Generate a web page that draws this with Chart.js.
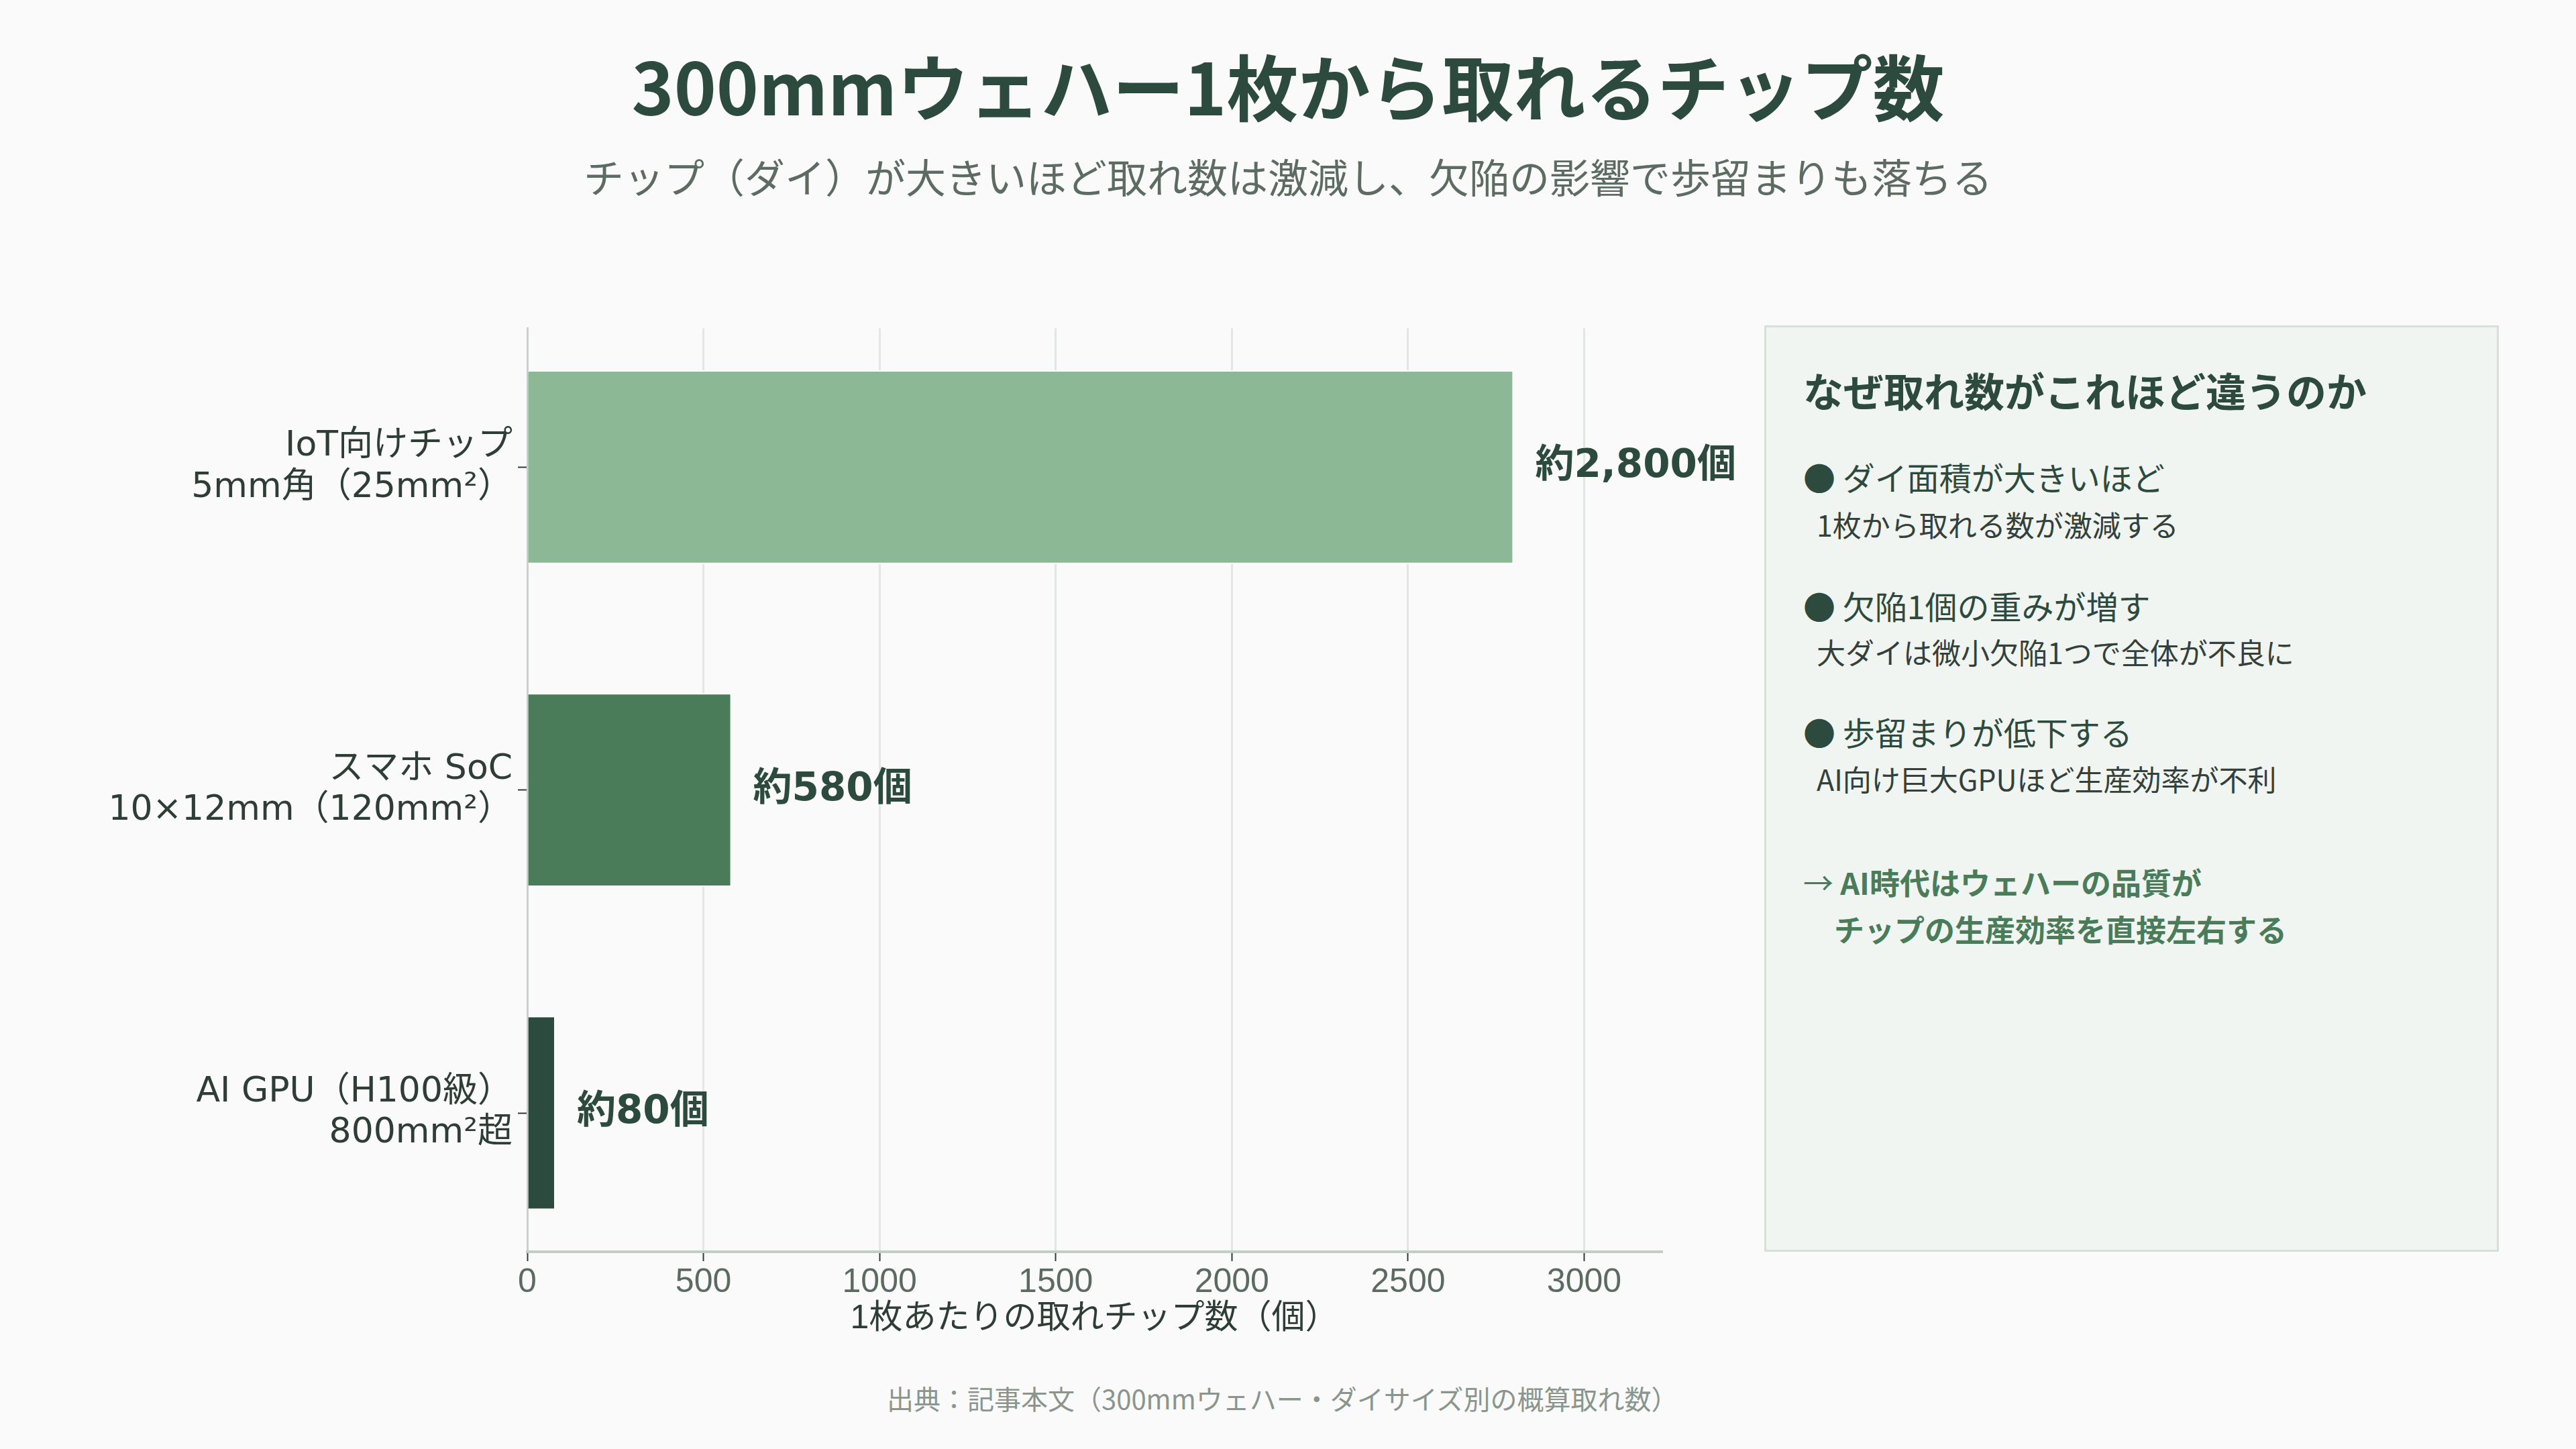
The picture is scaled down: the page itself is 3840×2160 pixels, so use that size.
<!DOCTYPE html>
<html lang="ja">
<head>
<meta charset="utf-8">
<title>300mmウェハー1枚から取れるチップ数</title>
<script src="https://cdn.jsdelivr.net/npm/chart.js@4.4.1/dist/chart.umd.min.js"></script>
<style>
  html, body { margin: 0; padding: 0; background: #fafafa; }
  body { width: 3840px; height: 2160px; position: relative; overflow: hidden;
         font-family: "Noto Sans CJK JP", "Noto Sans", sans-serif; }
  .t { position: absolute; white-space: nowrap; line-height: 1.2; }
  #title { left: 0; width: 3840px; text-align: center; top: 62px; font-size: 107px; font-weight: 700; color: #2d4a3e; }
  #subtitle { left: 0; width: 3840px; text-align: center; top: 226px; font-size: 60px; color: #5d6c62; }
  #chartBox { position: absolute; left: 0; top: 420px; width: 2620px; height: 1590px; }
  #panel { position: absolute; left: 2630px; top: 485px; width: 1089px; height: 1375px;
           background: #f0f5f1; border: 3px solid #d5e1d7; }
  .head { font-size: 60px; font-weight: 700; color: #2d4a3e; }
  .bul { font-size: 48px; color: #2d4a3e; }
  .sub { font-size: 43px; color: #34403a; }
  .con { font-size: 45px; font-weight: 700; color: #4a7c59; }
  #source { left: 1322px; top: 2060px; font-size: 40px; color: #8a968d; }
</style>
</head>
<body>
<div class="t" id="title">300mmウェハー1枚から取れるチップ数</div>
<div class="t" id="subtitle">チップ（ダイ）が大きいほど取れ数は激減し、欠陥の影響で歩留まりも落ちる</div>

<div id="chartBox"><canvas id="chart" width="2620" height="1590"></canvas></div>

<div id="panel"></div>
<div class="t head" style="left:2688px; top:545px;">なぜ取れ数がこれほど違うのか</div>
<div class="t bul" style="left:2688px; top:682px;">● ダイ面積が大きいほど</div>
<div class="t sub" style="left:2708px; top:756px;">1枚から取れる数が激減する</div>
<div class="t bul" style="left:2688px; top:874px;">● 欠陥1個の重みが増す</div>
<div class="t sub" style="left:2708px; top:946px;">大ダイは微小欠陥1つで全体が不良に</div>
<div class="t bul" style="left:2688px; top:1062px;">● 歩留まりが低下する</div>
<div class="t sub" style="left:2708px; top:1135px;">AI向け巨大GPUほど生産効率が不利</div>
<div class="t con" style="left:2688px; top:1288px;"><span style="font-weight:400">→</span> AI時代はウェハーの品質が</div>
<div class="t con" style="left:2734px; top:1358px;">チップの生産効率を直接左右する</div>

<div class="t" id="source">出典：記事本文（300mmウェハー・ダイサイズ別の概算取れ数）</div>

<script>
// data
const categories = [
  ['IoT向けチップ', '5mm角（25mm²）'],
  ['スマホ SoC', '10×12mm（120mm²）'],
  ['AI GPU（H100級）', '800mm²超']
];
const chipCounts = [2800, 580, 80];
const xTicks = [0, 500, 1000, 1500, 2000, 2500, 3000];
const barColors = ['#8db896', '#4a7c59', '#2c4a3e'];

// latin glyphs from a sans family, japanese falls back to Noto CJK
const FONT = '"Liberation Sans", "Noto Sans CJK JP", sans-serif';
const WIDE = '"DejaVu Sans", "Noto Sans CJK JP", sans-serif';

// "約2,800個" labels right of each bar
const valueLabels = {
  id: 'valueLabels',
  afterDatasetsDraw(chart) {
    const ctx = chart.ctx;
    const meta = chart.getDatasetMeta(0);
    ctx.save();
    ctx.font = 'bold 58px ' + WIDE;
    ctx.fillStyle = '#2d4a3e';
    ctx.textBaseline = 'middle';
    ctx.textAlign = 'left';
    meta.data.forEach((bar, i) => {
      ctx.fillText('約' + chipCounts[i].toLocaleString('en-US') + '個', bar.x + 32, bar.y);
    });
    ctx.restore();
  }
};

function draw() {
  const ctx = document.getElementById('chart').getContext('2d');
  new Chart(ctx, {
    type: 'bar',
    data: {
      datasets: [{
        data: chipCounts.map((v, i) => ({ x: v, y: i })),
        backgroundColor: barColors,
        borderColor: '#ffffff',
        borderWidth: 2,
        categoryPercentage: 1,
        barPercentage: 0.6
      }]
    },
    options: {
      indexAxis: 'y',
      responsive: false,
      animation: false,
      layout: { padding: { top: 65, right: 143, left: 0, bottom: 0 } },
      plugins: { legend: { display: false }, tooltip: { enabled: false } },
      scales: {
        y: {
          type: 'linear',
          reverse: true,
          offset: false,
          min: -0.43,
          max: 2.43,
          afterBuildTicks: s => { s.ticks = categories.map((_, i) => ({ value: i })); },
          afterFit: s => { s.width = 786; },
          ticks: {
            callback: v => categories[v],
            font: { family: WIDE, size: 52, lineHeight: 1.18 },
            color: '#2e3d36',
            padding: 8,
            autoSkip: false
          },
          grid: { offset: false, drawOnChartArea: false, drawTicks: true, tickLength: 14, tickColor: '#2e3d36', tickWidth: 2 },
          border: { color: '#c8d0c9', width: 3 }
        },
        x: {
          type: 'linear',
          min: 0,
          max: 3220,
          afterBuildTicks: s => { s.ticks = xTicks.map(v => ({ value: v })); },
          afterFit: s => { s.height = 144; },
          ticks: {
            callback: v => String(v),
            font: { family: FONT, size: 50 },
            color: '#5b6b61',
            padding: 2
          },
          grid: { color: '#e3e7e3', lineWidth: 3, tickLength: 14, tickColor: '#2e3d36', tickWidth: 2 },
          border: { color: '#c3cdc4', width: 4 },
          title: {
            display: true,
            text: '1枚あたりの取れチップ数（個）',
            font: { family: FONT, size: 50 },
            color: '#2e3d36',
            padding: { top: 0, bottom: 14 }
          }
        }
      }
    },
    plugins: [valueLabels]
  });
}

Promise.all([
  document.fonts.load('50px "Noto Sans CJK JP"'),
  document.fonts.load('bold 60px "Noto Sans CJK JP"'),
  document.fonts.load('50px "Liberation Sans"'),
  document.fonts.load('50px "DejaVu Sans"'),
  document.fonts.load('bold 58px "DejaVu Sans"')
]).then(draw, draw);
</script>
</body>
</html>
